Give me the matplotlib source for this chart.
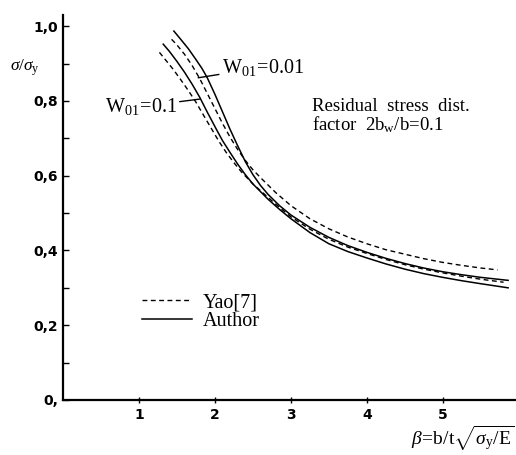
import numpy as np
import matplotlib.pyplot as plt

plt.rcParams['mathtext.fontset'] = 'custom'
plt.rcParams['mathtext.rm'] = 'Liberation Serif'
plt.rcParams['mathtext.it'] = 'Liberation Serif:italic'
plt.rcParams['mathtext.bf'] = 'Liberation Serif:bold'

# Yao[7], W01 = 0.01 (dashed)
beta_y001 = [1.43, 1.5, 1.6, 1.7, 1.8, 1.9, 2.0, 2.1, 2.2, 2.3, 2.4, 2.5, 2.6, 2.8,
             3.0, 3.25, 3.5, 3.75, 4.0, 4.25, 4.5, 4.75, 5.0, 5.25, 5.5, 5.72]
sig_y001 = [0.965, 0.95, 0.925, 0.895, 0.86, 0.82, 0.78, 0.74, 0.703, 0.67, 0.641, 0.616,
            0.595, 0.555, 0.52, 0.485, 0.458, 0.436, 0.418, 0.402, 0.39, 0.378, 0.368,
            0.36, 0.353, 0.348]
# Yao[7], W01 = 0.1 (dashed)
beta_y01 = [1.27, 1.35, 1.45, 1.55, 1.65, 1.75, 1.85, 1.96, 2.05, 2.15, 2.25, 2.35, 2.5,
            2.7, 2.85, 3.0, 3.25, 3.5, 3.75, 4.0, 4.25, 4.5, 4.75, 5.0, 5.25, 5.5, 5.8]
sig_y01 = [0.93, 0.91, 0.885, 0.857, 0.828, 0.797, 0.762, 0.724, 0.693, 0.662, 0.635,
           0.61, 0.578, 0.542, 0.515, 0.49, 0.457, 0.43, 0.409, 0.392, 0.376, 0.362,
           0.35, 0.34, 0.331, 0.323, 0.315]
# Author, W01 = 0.01 (solid)
beta_a001 = [1.46, 1.55, 1.65, 1.75, 1.83, 1.9, 2.0, 2.1, 2.2, 2.3, 2.4, 2.5, 2.6, 2.7,
             2.85, 3.0, 3.25, 3.5, 3.75, 4.0, 4.25, 4.5, 4.75, 5.0, 5.25, 5.5, 5.86]
sig_a001 = [0.987, 0.965, 0.94, 0.911, 0.887, 0.862, 0.818, 0.771, 0.724, 0.68, 0.638,
            0.603, 0.574, 0.55, 0.52, 0.495, 0.462, 0.435, 0.413, 0.395, 0.379, 0.365,
            0.353, 0.343, 0.335, 0.328, 0.32]
# Author, W01 = 0.1 (solid)
beta_a01 = [1.32, 1.4, 1.5, 1.6, 1.7, 1.8, 1.9, 2.02, 2.1, 2.2, 2.3, 2.4, 2.5, 2.7, 2.85,
            3.0, 3.25, 3.5, 3.75, 4.0, 4.25, 4.5, 4.75, 5.0, 5.25, 5.5, 5.86]
sig_a01 = [0.952, 0.933, 0.906, 0.877, 0.845, 0.81, 0.77, 0.724, 0.694, 0.662, 0.631,
           0.603, 0.578, 0.537, 0.51, 0.485, 0.448, 0.418, 0.397, 0.38, 0.364, 0.35,
           0.338, 0.328, 0.319, 0.311, 0.30]

xticks = [1, 2, 3, 4, 5]
yticks = [0, 0.2, 0.4, 0.6, 0.8, 1.0]
ylabels = ['0,', '0,2', '0,4', '0,6', '0,8', '1,0']

fig = plt.figure(figsize=(5.16, 4.55), dpi=100)
ax = fig.add_axes([0.122, 0.121, 0.876, 0.846])

dash = (3.5, 2.5)
ax.plot(beta_y001, sig_y001, color='black', lw=1.0, dashes=dash, label='Yao[7]')
ax.plot(beta_y01, sig_y01, color='black', lw=1.0, dashes=dash)
ax.plot(beta_a001, sig_a001, color='black', lw=1.1, label='Author')
ax.plot(beta_a01, sig_a01, color='black', lw=1.1)

ax.set_xlim(0, 5.95)
ax.set_ylim(0, 1.03)
ax.spines['top'].set_visible(False)
ax.spines['right'].set_visible(False)
ax.spines['left'].set_linewidth(1.6)
ax.spines['bottom'].set_linewidth(1.6)

ax.set_xticks(xticks)
ax.set_xticklabels([str(t) for t in xticks], fontsize=10, fontweight='bold')
ax.set_yticks(yticks)
ax.set_yticklabels(ylabels, fontsize=10, fontweight='bold')
ax.set_yticks(np.arange(0.1, 1.0, 0.2), minor=True)
ax.tick_params(axis='y', which='both', direction='in', length=4, width=1)
ax.tick_params(axis='x', direction='inout', length=5, width=1)

# annotations
ax.annotate(r'$\mathrm{W_{01}\!=\!0.01}$', xy=(1.78, 0.862), xytext=(2.09, 0.89),
            fontsize=14.5, va='center', ha='left',
            arrowprops=dict(arrowstyle='-', lw=1.0, color='black', shrinkA=0, shrinkB=0))
ax.annotate(r'$\mathrm{W_{01}\!=\!0.1}$', xy=(1.8, 0.805), xytext=(0.55, 0.785),
            fontsize=14.5, va='center', ha='left',
            arrowprops=dict(arrowstyle='-', lw=1.0, color='black', shrinkA=0, shrinkB=0))
ax.text(3.28, 0.758, 'Residual  stress  dist.\n' + r'factor  2b$_{\mathrm{w}}$/b=0.1',
        fontsize=13.5, family='Liberation Serif', va='center', ha='left', linespacing=0.95)

ax.legend(loc='upper left', bbox_to_anchor=(0.135, 0.325), frameon=False,
          handlelength=2.5, handletextpad=0.5, labelspacing=0.0,
          prop={'family': 'Liberation Serif', 'size': 14.5})

fig.text(0.02, 0.845, r'$\sigma/\sigma_{\mathrm{y}}$', fontsize=12.5)
fig.text(0.998, 0.004, r'$\beta\!=\!\mathrm{b/t}\sqrt{\sigma_{\mathrm{y}}/\mathrm{E}}$',
         fontsize=14, ha='right', va='bottom')

plt.savefig('out.png', dpi=100)
